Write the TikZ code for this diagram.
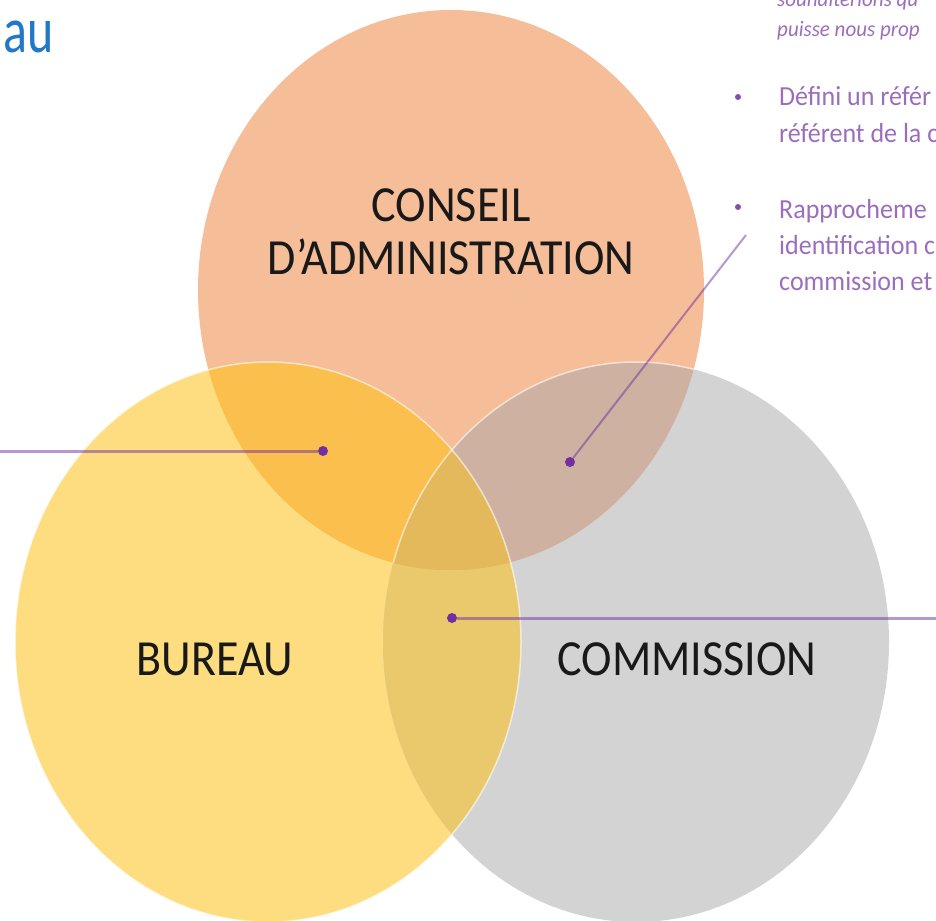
\documentclass[tikz,border=0pt]{standalone}
\usepackage{fontspec}
\setmainfont{Carlito}
\definecolor{conseilc}{HTML}{F5BD98}
\definecolor{bureauc}{HTML}{FDDD80}
\definecolor{commisc}{HTML}{D3D3D3}
\definecolor{cbc}{HTML}{FABF4D}
\definecolor{ccc}{HTML}{CEB1A0}
\definecolor{bcc}{HTML}{E9C96C}
\definecolor{allc}{HTML}{E3B95C}
\definecolor{purp}{HTML}{7030A0}
\definecolor{titleblue}{HTML}{1F78C8}
\tikzset{
	rr/.style={x radius=253pt, y radius=280pt},
	lbl/.style={text=black!90, font=\fontsize{46}{48}\selectfont, yscale=1.1, align=center},
	note/.style={text=purp!70!white, font=\fontsize{26}{28}\selectfont, yscale=1.06, anchor=base west, inner sep=0pt},
	smallnote/.style={text=purp!70!white, font=\fontsize{21}{23}\selectfont\itshape, yscale=1.05, anchor=base west, inner sep=0pt},
	pdot/.style={circle, fill=purp, inner sep=0pt, minimum size=10pt},
	bdot/.style={circle, fill=purp!85!white, inner sep=0pt, minimum size=6pt},
	lead/.style={draw=purp, draw opacity=0.5, line width=3pt}
}
\begin{document}
\begin{tikzpicture}[x=1pt, y=-1pt]
	\useasboundingbox (0,0) rectangle (936,920);
	\clip (0,0) rectangle (936,920);
	\coordinate (cA) at (451,290);
	\coordinate (cB) at (268,642);
	\coordinate (cC) at (636,642);
	% the three circles
	\fill[conseilc] (cA) ellipse [rr];
	\fill[bureauc] (cB) ellipse [rr];
	\fill[commisc] (cC) ellipse [rr];
	\begin{scope}
		\clip (cB) ellipse [rr];
		\fill[bcc] (cC) ellipse [rr];
	\end{scope}
	\begin{scope}
		\clip (cA) ellipse [rr];
		\fill[cbc] (cB) ellipse [rr];
		\fill[ccc] (cC) ellipse [rr];
		\clip (cB) ellipse [rr];
		\fill[allc] (cC) ellipse [rr];
	\end{scope}
	\begin{scope}
		\clip (cA) ellipse [rr];
		\draw[white, opacity=0.6, line width=1.5pt] (cC) ellipse [rr];
	\end{scope}
	\draw[white, opacity=0.6, line width=1.5pt] (cB) ellipse [rr];
	% labels
	\node[lbl] (Conseil) at (451,232) {CONSEIL\\D’ADMINISTRATION};
	\node[lbl, anchor=base] (Bureau) at (215,675) {BUREAU};
	\node[lbl, anchor=base] (Commission) at (687,675) {COMMISSION};
	\node[text=titleblue, font=\fontsize{50}{50}\selectfont, yscale=1.3, anchor=base west, inner sep=0pt] (Titre) at (3,53) {au};
	% right column
	\node[smallnote] (Ligne1) at (777,7) {souhaiterions qu};
	\node[smallnote] (Ligne2) at (777,37) {puisse nous prop};
	\node[bdot] (Puce1) at (738,97) {};
	\node[note] (Referent) at (779,106) {Défini un référ};
	\node[note] (Referent2) at (779,143) {référent de la c};
	\node[bdot] (Puce2) at (738,207) {};
	\node[note] (Rappro) at (779,218) {Rapprocheme};
	\node[note] (Rappro2) at (779,254) {identification c};
	\node[note] (Rappro3) at (779,290) {commission et};
	% points and leader lines
	\node[pdot] (PointCB) at (323,451) {};
	\node[pdot] (PointCC) at (570,462) {};
	\node[pdot] (PointTout) at (452,618) {};
	\coordinate (BordG) at (-5,451);
	\coordinate (BordD) at (941,618);
	\coordinate (HautD) at (746,235);
	\draw[lead] (PointCB) -- (BordG);
	\draw[lead, line width=2pt] (PointCC) -- (HautD);
	\draw[lead] (PointTout) -- (BordD);
\end{tikzpicture}
\end{document}
